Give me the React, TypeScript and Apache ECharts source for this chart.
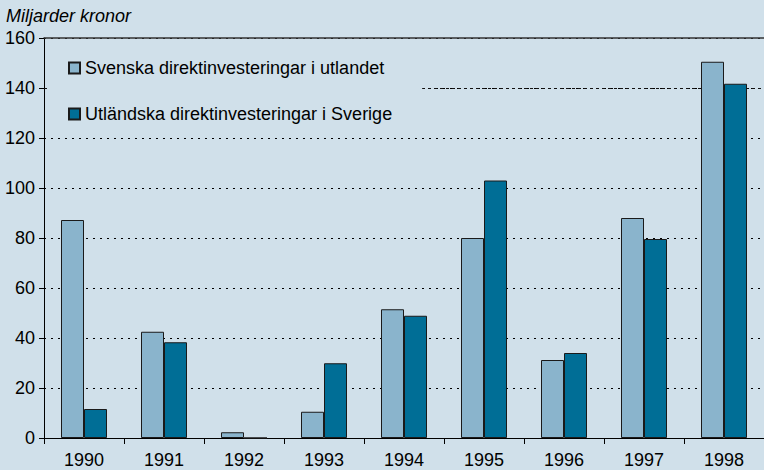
import React, { useEffect, useRef } from "react";
import * as echarts from "echarts";

const years = ["1990", "1991", "1992", "1993", "1994", "1995", "1996", "1997", "1998"];
const svenska = [87.2, 42.5, 2.3, 10.5, 51.5, 80, 31.2, 88, 150.5];
const utlandska = [11.6, 38.3, 0, 29.9, 48.9, 103, 34, 79.6, 141.7];
const seriesNames = ["Svenska direktinvesteringar i utlandet", "Utländska direktinvesteringar i Sverige"];
const yTitle = "Miljarder kronor";
const dashedLevel = 140;

const BG = "#d0e0ea";
const LIGHT = "#8ab4cc";
const DARK = "#006e96";
const FONT = "Liberation Sans, Arial, sans-serif";

export default function App() {
  const ref = useRef<HTMLDivElement>(null);
  useEffect(() => {
    if (!ref.current) return;
    const chart = echarts.init(ref.current, undefined, { renderer: "svg" });
    chart.setOption({
      animation: false,
      backgroundColor: BG,
      textStyle: { fontFamily: FONT },
      title: {
        text: yTitle,
        left: 1,
        top: 2,
        textStyle: { fontSize: 18, fontStyle: "italic", fontWeight: "normal", color: "#000", fontFamily: FONT },
      },
      grid: { left: 44, top: 38, width: 724, bottom: 32, containLabel: false },
      legend: {
        orient: "vertical",
        left: 48,
        top: 40,
        padding: [19, 30, 14, 20],
        backgroundColor: BG,
        itemWidth: 11,
        itemHeight: 11,
        itemGap: 28,
        icon: "rect",
        textStyle: { fontSize: 18, color: "#000", fontFamily: FONT, lineHeight: 18 },
        data: seriesNames,
        z: 10,
      },
      xAxis: [
        {
          type: "category",
          data: years,
          position: "bottom",
          axisLine: { lineStyle: { color: "#000", width: 1 } },
          axisTick: { show: true, length: 6, lineStyle: { color: "#000" } },
          axisLabel: { fontSize: 18, color: "#000", margin: 13, fontFamily: FONT },
        },
        {
          type: "category",
          data: years,
          position: "top",
          axisLine: { show: true, lineStyle: { color: "#333", width: 1.5 } },
          axisTick: { show: false },
          axisLabel: { show: false },
        },
      ],
      yAxis: {
        type: "value",
        min: 0,
        max: 160,
        interval: 20,
        axisLine: { show: true, lineStyle: { color: "#000", width: 1 } },
        axisTick: { show: true, length: 5, lineStyle: { color: "#000" } },
        axisLabel: { fontSize: 18, color: "#000", margin: 9, fontFamily: FONT },
        splitLine: { show: true, lineStyle: { color: "#000", type: [2, 5], width: 1 } },
      },
      series: [
        {
          name: seriesNames[0],
          type: "bar",
          data: svenska,
          barWidth: 23,
          barGap: "0%",
          itemStyle: { color: LIGHT, borderColor: "#1a1a1a", borderWidth: 1 },
          markLine: {
            silent: true,
            symbol: "none",
            label: { show: false },
            lineStyle: { color: "#111", type: [3, 3], width: 1 },
            data: [{ yAxis: dashedLevel }],
            z: 1,
          },
        },
        {
          name: seriesNames[1],
          type: "bar",
          data: utlandska,
          barWidth: 23,
          barGap: "0%",
          itemStyle: { color: DARK, borderColor: "#1a1a1a", borderWidth: 1 },
        },
      ],
    });
    return () => chart.dispose();
  }, []);
  return <div ref={ref} style={{ width: 764, height: 470, position: "absolute", left: 0, top: 0 }} />;
}
